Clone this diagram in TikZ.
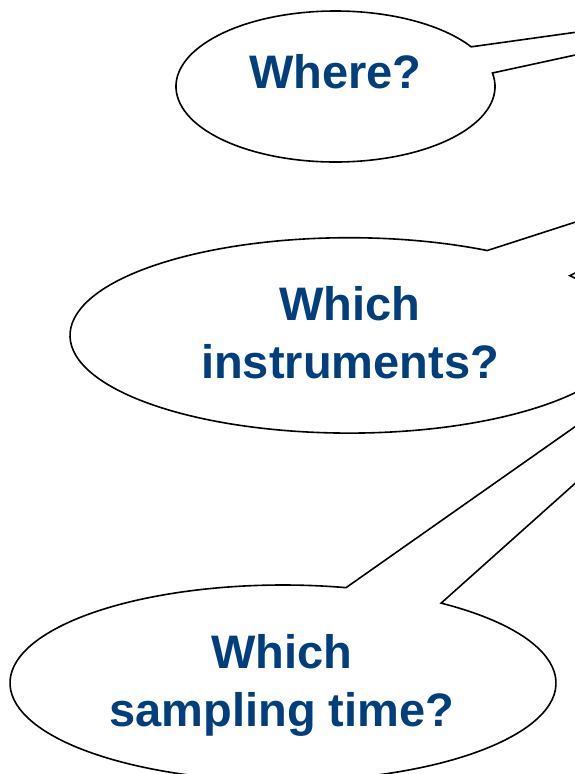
\documentclass[tikz,border=0pt]{standalone}
\usepackage{fontspec}
\setmainfont{Liberation Sans}
\definecolor{askblue}{RGB}{0,62,126}
\begin{document}
\begin{tikzpicture}[x=1pt,y=-1pt,inner sep=0pt,outer sep=0pt,
bubble/.style={draw=black,fill=white,line width=1.6pt,line join=miter},
asktext/.style={anchor=base,align=center,text=askblue,font=\fontsize{47}{57.7}\selectfont\bfseries}]
\useasboundingbox (0,0) rectangle (575,774);
\clip (0,0) rectangle (575,774);

% where
\coordinate (where-a) at ([shift={(335.5,86.5)}]-31.7:159.5 and 75.5);
\coordinate (where-b) at ([shift={(335.5,86.5)}]-10.3:159.5 and 75.5);
\coordinate (where-tip) at (868,-8.5);
\draw[bubble] (where-a) -- (where-tip) -- (where-b)
  arc[start angle=-10.3,end angle=328.3,x radius=159.5,y radius=75.5] -- cycle;
\node[asktext] (where) at (335.3,88.3) {Where?};

% instruments
\coordinate (instr-a) at ([shift={(349,335.4)}]-60.3:279 and 97.7);
\coordinate (instr-b) at ([shift={(349,335.4)}]-37.7:279 and 97.7);
\coordinate (instr-tip) at (870,127);
\draw[bubble] (instr-a) -- (instr-tip) -- (instr-b)
  arc[start angle=-37.7,end angle=299.7,x radius=279,y radius=97.7] -- cycle;
\node[asktext] (instr) at (350,378.3) {Which\\instruments?};

% sampling time
\coordinate (time-a) at ([shift={(283,683)}]-76.65:273 and 98);
\coordinate (time-b) at ([shift={(283,683)}]-54.6:273 and 98);
\coordinate (time-tip) at (872,218);
\draw[bubble] (time-a) -- (time-tip) -- (time-b)
  arc[start angle=-54.6,end angle=283.35,x radius=273,y radius=98] -- cycle;
\node[asktext] (time) at (282,726) {Which\\sampling time?};
\end{tikzpicture}
\end{document}
